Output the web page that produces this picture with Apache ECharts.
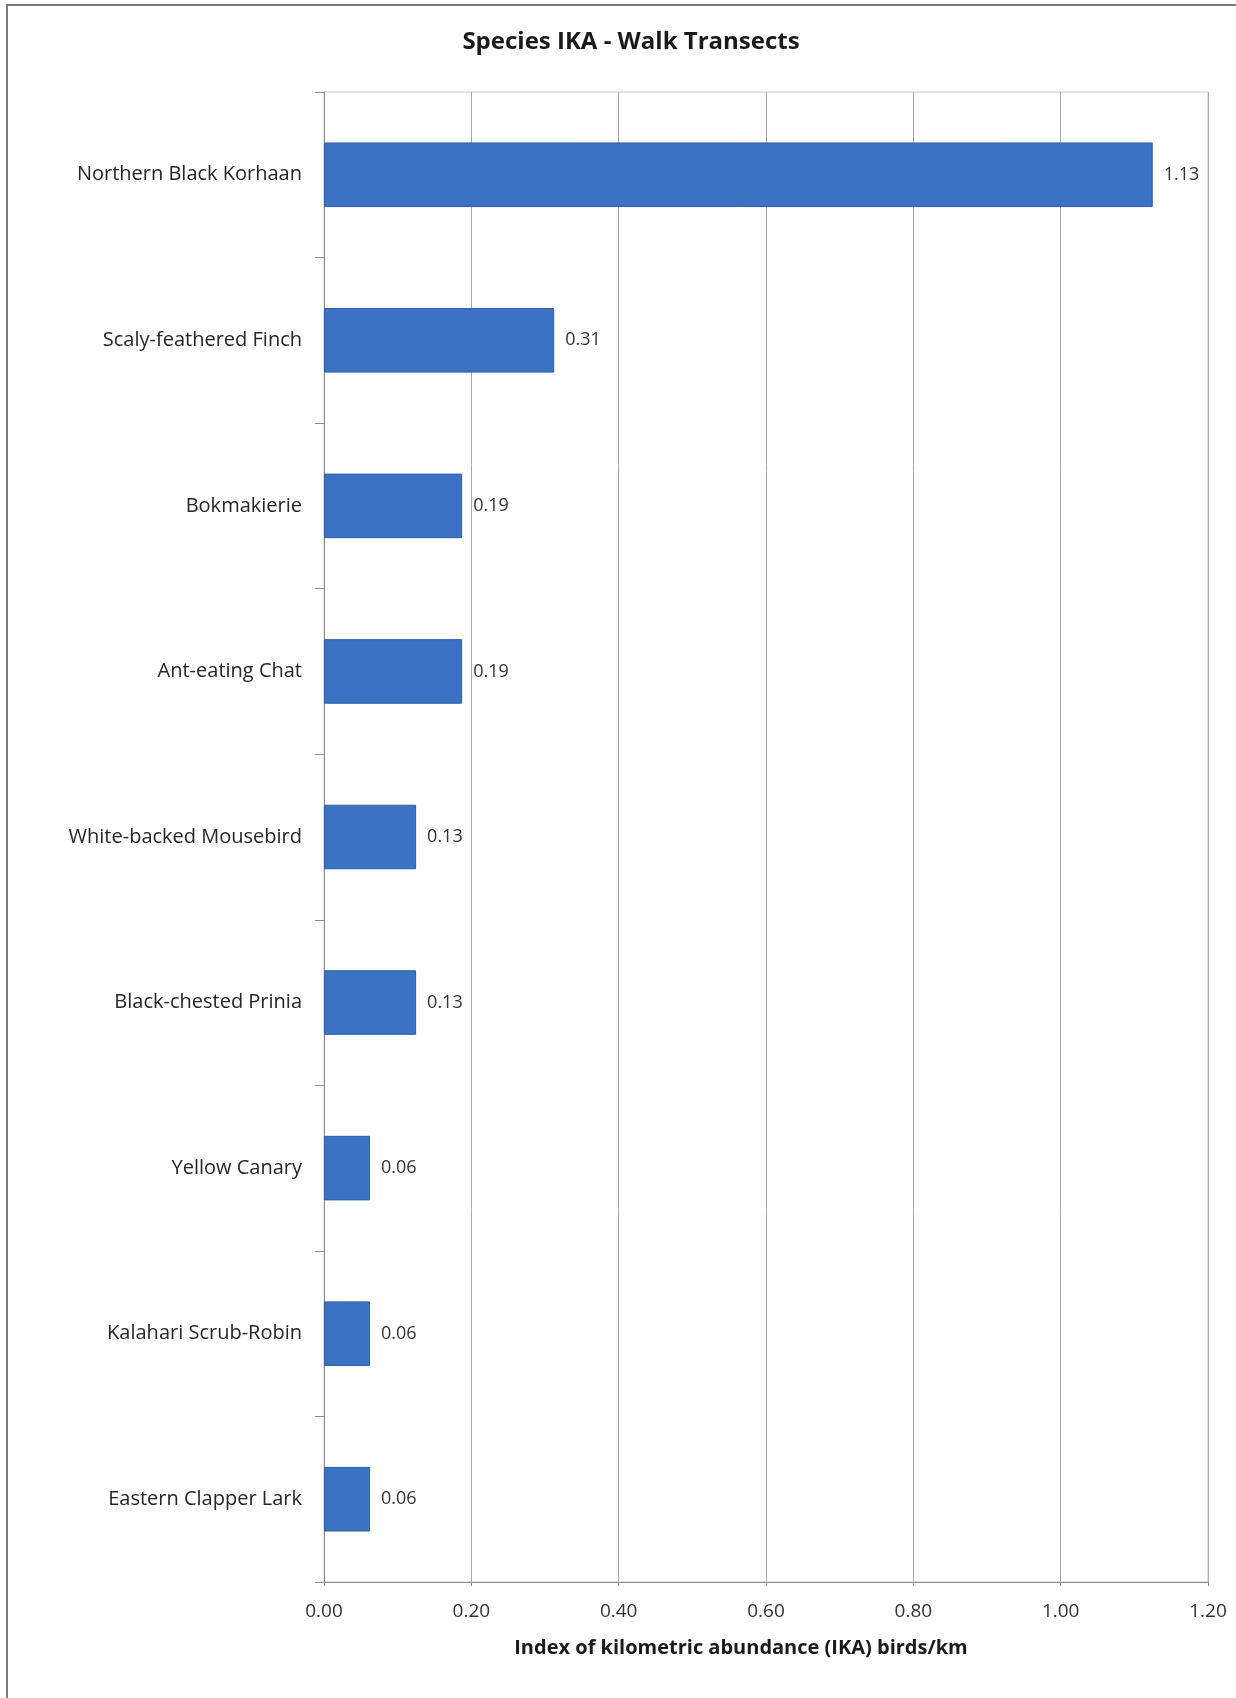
<!DOCTYPE html>
<html>
<head>
<meta charset="utf-8">
<script src="https://cdn.jsdelivr.net/npm/echarts@6/dist/echarts.min.js"></script>
<style>
html,body{margin:0;padding:0;background:#fff;}
#chart{width:1236px;height:1698px;}
</style>
</head>
<body>
<div id="chart"></div>
<script>
const categories = [
  "Northern Black Korhaan",
  "Scaly-feathered Finch",
  "Bokmakierie",
  "Ant-eating Chat",
  "White-backed Mousebird",
  "Black-chested Prinia",
  "Yellow Canary",
  "Kalahari Scrub-Robin",
  "Eastern Clapper Lark"
];
const ikaValues = [1.125, 0.3125, 0.1875, 0.1875, 0.125, 0.125, 0.0625, 0.0625, 0.0625];
const xTicks = { min: 0, max: 1.2, interval: 0.2 };

const chart = echarts.init(document.getElementById('chart'));
const font = '"Open Sans", "Noto Sans", sans-serif';
chart.setOption({
  backgroundColor: '#ffffff',
  animation: false,
  title: {
    text: 'Species IKA - Walk Transects',
    left: 626, top: 25, textAlign: 'center',
    textStyle: { fontFamily: font, fontSize: 24, fontWeight: 'bold', color: '#1a1a1a' }
  },
  graphic: [{
    type: 'rect', shape: { x: 7, y: 5, width: 1260, height: 1720 },
    style: { fill: 'none', stroke: '#7a7a7a', lineWidth: 2 }, silent: true
  }],
  grid: {
    left: 324, right: 28, top: 92, bottom: 116,
    show: true, borderColor: '#c8c8c8', borderWidth: 1, backgroundColor: 'transparent'
  },
  xAxis: {
    type: 'value', min: xTicks.min, max: xTicks.max, interval: xTicks.interval,
    name: 'Index of kilometric abundance (IKA) birds/km',
    nameLocation: 'middle', nameGap: 56,
    nameTextStyle: { fontFamily: font, fontSize: 20, fontWeight: 'bold', color: '#1a1a1a', padding: [0, 50, 0, 0] },
    axisLine: { show: true, lineStyle: { color: '#8c8c8c', width: 1 } },
    axisTick: { show: true, length: 4, lineStyle: { color: '#8c8c8c' } },
    axisLabel: { fontFamily: font, fontSize: 19, color: '#333', margin: 20,
      formatter: v => v.toFixed(2) },
    splitLine: { show: true, lineStyle: { color: '#a8a8a8', width: 1 } }
  },
  yAxis: {
    type: 'category', data: categories, inverse: true,
    axisLine: { show: true, lineStyle: { color: '#8c8c8c', width: 1 } },
    axisTick: { show: true, length: 9, lineStyle: { color: '#8c8c8c' } },
    axisLabel: { fontFamily: font, fontSize: 20, color: '#262626', margin: 22 }
  },
  series: [{
    type: 'bar', data: ikaValues, barCategoryGap: '61%',
    itemStyle: { color: '#3b72c4', borderColor: '#2f5fa6', borderWidth: 1 },
    label: { show: true, position: 'right', distance: 11,
      fontFamily: font, fontSize: 18, color: '#333',
      formatter: p => p.value.toFixed(2) }
  }]
});
</script>
</body>
</html>
